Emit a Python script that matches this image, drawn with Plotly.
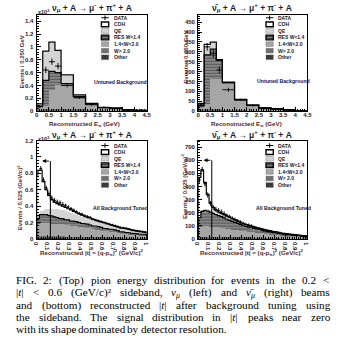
import re
import numpy as np
import plotly.graph_objects as go

W, H = 346, 351

# ---------------- data ----------------
# Top panels: reconstructed pion energy (GeV), variable bins, Events / 0.250 GeV
e_edges = [0, 0.25, 0.5, 0.75, 1.0, 1.5, 2.0, 2.5, 3.0, 3.5, 4.0, 4.5]

# top-left: nu_mu, units of 10^3
tl_other = [0.010, 0.010, 0.010, 0.010, 0.010, 0.005, 0.005, 0.003, 0.003, 0.002, 0.001]
tl_w2    = [0.020, 0.020, 0.020, 0.030, 0.030, 0.025, 0.015, 0.012, 0.009, 0.006, 0.003]
tl_w14   = [0.030, 0.050, 0.300, 0.370, 0.360, 0.170, 0.080, 0.030, 0.028, 0.007, 0.004]
tl_res   = [0.020, 0.400, 0.290, 0.190, 0.030, 0.030, 0.010, 0.005, 0.005, 0.003, 0.002]
tl_qe    = [0.030, 0.450, 0.450, 0.340, 0.130, 0.020, 0.010, 0.005, 0.005, 0.002, 0.000]
tl_coh   = [0.002, 0.005, 0.005, 0.005, 0.005, 0.002, 0.001, 0.001, 0.000, 0.000, 0.000]
tl_data  = [0.07, 0.64, 0.77, 0.70, 0.40, 0.21, 0.10, 0.06, 0.04, 0.02, 0.01]
tl_err   = [0.02, 0.05, 0.05, 0.05, 0.03, 0.02, 0.015, 0.01, 0.01, 0.006, 0.005]

# top-right: anti-nu_mu, events
tr_other = [3, 4, 4, 4, 3, 2, 1, 1, 1, 0.5, 0.3]
tr_w2    = [5, 6, 6, 6, 5, 3, 2, 1, 1, 0.5, 0.3]
tr_w14   = [12, 25, 155, 155, 132, 50, 24, 12, 9, 4, 1.4]
tr_res   = [8, 249, 149, 91, 4, 3, 3, 2, 1, 1, 1]
tr_qe    = [10, 51, 33, 4, 2, 2, 1, 1, 1, 0, 0]
tr_coh   = [1, 2, 2, 1, 1, 0, 0, 0, 0, 0, 0]
tr_data  = [32, 325, 290, 208, 108, 57, 28, 13, 10, 5, 2]
tr_err   = [8, 20, 20, 18, 10, 6, 4, 3, 3, 2, 1]

# Bottom panels: reconstructed |t|, 0.025 (GeV/c)^2 bins
t_edges = np.round(np.arange(0, 1.0001, 0.025), 4)

# bottom-left: nu_mu, units of 10^3
bl_other = [0.012]*10 + [0.011]*10 + [0.009]*10 + [0.007]*10
bl_w2    = [0.025]*10 + [0.022]*10 + [0.018]*10 + [0.014]*10
bl_w14   = [0.15, 0.16, 0.16, 0.16, 0.16, 0.155, 0.155, 0.15, 0.15, 0.145,
            0.14, 0.14, 0.135, 0.13, 0.125, 0.12, 0.115, 0.11, 0.105, 0.10,
            0.095, 0.09, 0.085, 0.08, 0.075, 0.07, 0.066, 0.062, 0.058, 0.054,
            0.05, 0.047, 0.044, 0.041, 0.038, 0.035, 0.032, 0.03, 0.028, 0.026]
bl_res   = [0.06, 0.10, 0.10, 0.10, 0.09, 0.088, 0.078, 0.073, 0.063, 0.063,
            0.062, 0.06, 0.052, 0.052, 0.052, 0.047, 0.042, 0.042, 0.042, 0.037,
            0.038, 0.038, 0.038, 0.033, 0.028, 0.028, 0.027, 0.026, 0.025, 0.019,
            0.019, 0.017, 0.015, 0.013, 0.011, 0.010, 0.009, 0.009, 0.009, 0.008]
bl_qe    = [0.05, 0.053, 0.063, 0.073, 0.088, 0.095, 0.10, 0.105, 0.11, 0.11,
            0.11, 0.10, 0.105, 0.095, 0.09, 0.09, 0.09, 0.085, 0.08, 0.08,
            0.075, 0.07, 0.065, 0.065, 0.065, 0.06, 0.055, 0.05, 0.045, 0.045,
            0.045, 0.045, 0.045, 0.045, 0.04, 0.034, 0.033, 0.03, 0.027, 0.025]
bl_coh   = [0.54, 0.49, 0.34, 0.23, 0.155, 0.105, 0.08, 0.065, 0.055, 0.045,
            0.04, 0.035, 0.03, 0.025, 0.02, 0.015, 0.01, 0.008, 0.006, 0.005,
            0.004, 0.003, 0.003, 0.002, 0.002, 0.001, 0.001, 0.001, 0.001, 0.001,
            0, 0, 0, 0, 0, 0, 0, 0, 0, 0]
bl_data  = [0.80, 0.86, 0.72, 0.62, 0.55, 0.50, 0.47, 0.45, 0.44, 0.42,
            0.41, 0.39, 0.37, 0.35, 0.33, 0.31, 0.30, 0.28, 0.27, 0.26,
            0.24, 0.23, 0.22, 0.21, 0.20, 0.19, 0.18, 0.17, 0.16, 0.15,
            0.14, 0.135, 0.13, 0.12, 0.11, 0.105, 0.10, 0.095, 0.09, 0.085]
bl_err   = [0.03]*10 + [0.02]*10 + [0.015]*10 + [0.012]*10

# bottom-right: anti-nu_mu, events
br_other = [5]*10 + [4]*10 + [3]*10 + [2]*10
br_w2    = [12]*10 + [10]*10 + [7]*10 + [4]*10
br_w14   = [75, 80, 82, 82, 80, 78, 76, 74, 72, 70,
            66, 63, 60, 57, 54, 51, 49, 47, 45, 43,
            42, 40, 38, 36, 34, 32, 30, 28, 26, 24,
            22, 20, 18, 17, 16, 14, 13, 12, 11, 10]
br_res   = [68, 113, 116, 113, 108, 100, 92, 87, 81, 73,
            70, 65, 60, 55, 50, 45, 37, 34, 31, 28,
            26, 24, 22, 19, 16, 14, 12, 10, 9, 8,
            10, 9, 9, 7, 6, 6, 5, 4, 3, 2]
br_qe    = [10, 12, 14, 16, 18, 19, 20, 20, 20, 20,
            20, 19, 18, 17, 16, 15, 15, 14, 13, 12,
            12, 11, 11, 10, 10, 9, 9, 8, 8, 8,
            7, 7, 7, 6, 6, 6, 5, 5, 5, 5]
br_coh   = [300, 303, 201, 112, 52, 26, 15, 7, 5, 5,
            4, 3, 2, 2, 2, 2, 1, 1, 1, 1,
            0, 0, 0, 0, 0, 0, 0, 0, 0, 0,
            0, 0, 0, 0, 0, 0, 0, 0, 0, 0]
br_data  = [450, 530, 420, 335, 270, 240, 225, 215, 205, 192,
            180, 170, 158, 148, 138, 128, 118, 110, 104, 98,
            92, 86, 80, 74, 68, 63, 58, 54, 50, 46,
            42, 39, 37, 34, 31, 29, 27, 25, 23, 22]
br_err   = [20]*10 + [14]*10 + [9]*10 + [6]*10

# signal-region cut markers (|t| cut and arrow height)
t_cut = 0.125
t_arrow_end = 0.05
bl_arrow_y = 0.95
br_arrow_y = 600

legend_names = ["DATA", "COH", "QE", "RES W<1.4", "1.4<W<2.0", "W> 2.0", "Other"]

# ---------------- style ----------------
C_OTHER = "#3a3a3a"
C_W2 = "#707070"
C_W14 = "#a6a6a6"
C_RES_BG = "#8c8c8c"
C_RES_FG = "#1e1e1e"
C_QE = "#d4d4d4"
C_COH = "#ffffff"
SANS = "Liberation Sans, Arial, sans-serif"
SERIF = "Liberation Serif, Times New Roman, serif"
TICKC = "#1a1a2e"
TITLEC = "#5a1e1e"


def px(x):
    return x / W


def py(y):
    return 1 - y / H


fig = go.Figure()


def add_panel(xa, ya, edges, comps, data, err):
    edges = np.asarray(edges, dtype=float)
    centers = (edges[:-1] + edges[1:]) / 2
    widths = np.diff(edges)
    colors = [C_OTHER, C_W2, C_W14, C_RES_BG, C_QE, C_COH]
    for k, vals in enumerate(comps):
        marker = dict(color=colors[k], line=dict(width=0))
        if k == 3:
            marker["pattern"] = dict(shape="-", fgcolor=C_RES_FG, bgcolor=C_RES_BG,
                                     size=3, solidity=0.4)
        fig.add_trace(go.Bar(x=centers, y=vals, width=widths, marker=marker,
                             xaxis=xa, yaxis=ya, showlegend=False,
                             hoverinfo="skip"))
    cum = np.cumsum(np.array(comps, dtype=float), axis=0)
    for level, lw in ((cum[3], 1.2), (cum[5], 1.2)):
        xs = [edges[0]]
        ys = [0]
        for i in range(len(centers)):
            xs += [edges[i], edges[i + 1]]
            ys += [level[i], level[i]]
        xs.append(edges[-1])
        ys.append(0)
        fig.add_trace(go.Scatter(x=xs, y=ys, mode="lines",
                                 line=dict(color="black", width=lw),
                                 xaxis=xa, yaxis=ya, showlegend=False,
                                 hoverinfo="skip"))
    fig.add_trace(go.Scatter(
        x=centers, y=data, mode="markers",
        marker=dict(size=1.5, color="black"),
        error_y=dict(type="data", array=err, width=0, thickness=0.9, color="black"),
        error_x=dict(type="data", array=widths / 2, width=0, thickness=0.9, color="black"),
        xaxis=xa, yaxis=ya, showlegend=False, hoverinfo="skip"))


add_panel("x", "y", e_edges, [tl_other, tl_w2, tl_w14, tl_res, tl_qe, tl_coh], tl_data, tl_err)
add_panel("x2", "y2", e_edges, [tr_other, tr_w2, tr_w14, tr_res, tr_qe, tr_coh], tr_data, tr_err)
add_panel("x3", "y3", t_edges, [bl_other, bl_w2, bl_w14, bl_res, bl_qe, bl_coh], bl_data, bl_err)
add_panel("x4", "y4", t_edges, [br_other, br_w2, br_w14, br_res, br_qe, br_coh], br_data, br_err)

# cut arrows in the |t| panels
for xa, ya, yv in (("x3", "y3", bl_arrow_y), ("x4", "y4", br_arrow_y)):
    fig.add_trace(go.Scatter(x=[t_cut, t_cut], y=[0, yv], mode="lines",
                             line=dict(color="black", width=1),
                             xaxis=xa, yaxis=ya, showlegend=False, hoverinfo="skip"))
    fig.add_annotation(x=t_arrow_end, y=yv, ax=t_cut, ay=yv, xref=xa, yref=ya,
                       axref=xa, ayref=ya, showarrow=True, arrowhead=2,
                       arrowsize=0.8, arrowwidth=1, arrowcolor="black", text=" ",
                       font=dict(size=1))

# ---------------- axes ----------------
tick_font = dict(family=SANS, size=6, color=TICKC, weight="bold")
x_dom_l = [px(33.5), px(146.5)]
x_dom_r = [px(199.3), px(311.5)]
y_dom_t = [py(110), py(12)]
y_dom_b = [py(240), py(140)]


def xaxis(dom, rng, dtick, minor, anchor):
    return dict(domain=dom, range=rng, anchor=anchor, dtick=dtick, tick0=0,
                ticks="inside", ticklen=4, tickwidth=0.8, tickcolor="black",
                minor=dict(ticks="inside", ticklen=2, dtick=minor, tickcolor="black"),
                showline=True, linecolor="black", linewidth=1, mirror=True,
                showgrid=False, zeroline=False, tickfont=tick_font,
                ticklabelstandoff=-2)


def yaxis(dom, rng, dtick, minor, anchor):
    return dict(domain=dom, range=rng, anchor=anchor, dtick=dtick, tick0=0,
                ticks="inside", ticklen=4, tickwidth=0.8, tickcolor="black",
                minor=dict(ticks="inside", ticklen=2, dtick=minor, tickcolor="black"),
                showline=True, linecolor="black", linewidth=1, mirror=True,
                showgrid=False, zeroline=False, tickfont=tick_font,
                ticklabelstandoff=1)


fig.update_layout(
    xaxis=xaxis(x_dom_l, [0, 4.5], 0.5, 0.1, "y"),
    yaxis=yaxis(y_dom_t, [0, 1.5], 0.2, 0.04, "x"),
    xaxis2=xaxis(x_dom_r, [0, 4.5], 0.5, 0.1, "y2"),
    yaxis2=yaxis(y_dom_t, [0, 487], 50, 10, "x2"),
    xaxis3=xaxis(x_dom_l, [0, 1], 0.1, 0.02, "y3"),
    yaxis3=yaxis(y_dom_b, [0, 1.2], 0.2, 0.04, "x3"),
    xaxis4=xaxis(x_dom_r, [0, 1], 0.1, 0.02, "y4"),
    yaxis4=yaxis(y_dom_b, [0, 750], 100, 20, "x4"),
    barmode="stack", bargap=0,
    width=W, height=H, margin=dict(l=0, r=0, t=0, b=0),
    paper_bgcolor="white", plot_bgcolor="white",
    showlegend=False,
)

# ---------------- text ----------------
def ann(x, y, text, size, color="black", family=SANS, xanchor="center",
        yanchor="middle", angle=0, bold=False):
    fig.add_annotation(x=px(x), y=py(y), xref="paper", yref="paper", text=text,
                       showarrow=False, xanchor=xanchor, yanchor=yanchor,
                       textangle=angle, borderpad=0,
                       font=dict(size=size, color=color, family=family,
                                 weight="bold" if bold else "normal"))


title_nu = "ν<sub>μ</sub> + A → μ<sup>-</sup> + π<sup>+</sup> + A"
title_nubar = "ν̄<sub>μ</sub> + A → μ<sup>+</sup> + π<sup>-</sup> + A"
TC = "#1c1c30"
ann(90, 5, title_nu, 8.5, TC, bold=True)
ann(255, 5, title_nubar, 8.5, TC, bold=True)
ann(90, 134, title_nu, 8.5, TC, bold=True)
ann(255, 134, title_nubar, 8.5, TC, bold=True)

xt_e = "Reconstructed E<sub>π</sub> (GeV)"
xt_t = "Reconstructed |t| = (q-p<sub>π</sub>)<sup>2</sup> (GeV/c)<sup>2</sup>"
ann(83, 123.5, xt_e, 6.2, TITLEC, bold=True)
ann(249, 123.5, xt_e, 6.2, TITLEC, bold=True)
ann(90, 253.5, xt_t, 6.2, TITLEC, bold=True)
ann(255, 253.5, xt_t, 6.2, TITLEC, bold=True)

ann(18, 60, "Events / 0.250 GeV", 6, TITLEC, angle=-90, bold=True)
ann(186.5, 55, "Events / 0.250 GeV", 6, TITLEC, angle=-90, bold=True)
ann(16, 198, "Events / 0.025 (GeV/c)<sup>2</sup>", 6, TITLEC, angle=-90, bold=True)
ann(185, 187, "Events / 0.025 (GeV/c)<sup>2</sup>", 6, TITLEC, angle=-90, bold=True)

ann(34, 9, "x10<sup>3</sup>", 5.5, TICKC, xanchor="left", bold=True)
ann(34, 138, "x10<sup>3</sup>", 5.5, TICKC, xanchor="left", bold=True)

NAVY = "#10106a"
ann(120, 80, "Untuned Background", 5.2, NAVY, bold=True)
ann(287, 79, "Untuned Background", 5.2, NAVY, bold=True)
ann(120, 209, "All Background Tuned", 5.2, TICKC, bold=True)
ann(287, 209, "All Background Tuned", 5.2, TICKC, bold=True)

# ---------------- legends ----------------
leg_fill = [C_COH, C_QE, C_RES_BG, C_W14, C_W2, C_OTHER]


def legend(x0, y0, xt):
    step = 6.7
    # DATA cross
    fig.add_shape(type="line", xref="paper", yref="paper",
                  x0=px(x0), x1=px(x0 + 7.5), y0=py(y0), y1=py(y0),
                  line=dict(color="black", width=1))
    fig.add_shape(type="line", xref="paper", yref="paper",
                  x0=px(x0 + 3.7), x1=px(x0 + 3.7), y0=py(y0 - 2.3), y1=py(y0 + 2.3),
                  line=dict(color="black", width=1))
    ann(xt, y0, legend_names[0], 5, TICKC, xanchor="left", bold=True)
    for k in range(6):
        yc = y0 + step * (k + 1)
        lw = 1.4 if k in (0, 2) else 0.4
        lc = "black" if k in (0, 2) else "#666666"
        fig.add_shape(type="rect", xref="paper", yref="paper",
                      x0=px(x0), x1=px(x0 + 7.5), y0=py(yc - 2.4), y1=py(yc + 2.4),
                      fillcolor=leg_fill[k], line=dict(color=lc, width=lw))
        if k == 2:
            for dy in (-1.0, 1.0):
                fig.add_shape(type="line", xref="paper", yref="paper",
                              x0=px(x0), x1=px(x0 + 7.5), y0=py(yc + dy), y1=py(yc + dy),
                              line=dict(color=C_RES_FG, width=0.8))
        ann(xt, yc, legend_names[k + 1], 5, TICKC, xanchor="left", bold=True)


legend(100, 15, 112)
legend(269, 15, 280)
legend(100, 145, 112)
legend(269, 145, 280)

# ---------------- caption (justified, word by word) ----------------
cap = [
    "FIG. 2: (Top) pion energy distribution for events in the 0.2 &lt;",
    "|<i>t</i>| &lt; 0.6 (GeV/c)² sideband, <i>ν</i><sub><i>μ</i></sub> (left) and <i>ν̄</i><sub><i>μ</i></sub> (right) beams",
    "and (bottom) reconstructed |<i>t</i>| after background tuning using",
    "the sideband.  The signal distribution in |<i>t</i>| peaks near zero",
    "with its shape dominated by detector resolution.",
]
cap_y = [282, 294.3, 306.7, 319, 331.5]

# Times / Liberation Serif advance widths (1/1000 em)
TW = {' ': 250, '!': 333, '(': 333, ')': 333, '.': 250, ',': 250, ':': 278,
      '<': 564, '|': 200, '/': 278, '-': 333, '²': 300, 'ν': 460, 'μ': 500,
      '\u0304': 0}
for ch in '0123456789':
    TW[ch] = 500
TW.update(dict(zip('abcdefghijklmnopqrstuvwxyz',
                   [444, 500, 444, 500, 444, 333, 500, 500, 278, 278, 500, 278, 778,
                    500, 500, 500, 500, 333, 389, 278, 500, 500, 722, 500, 500, 444])))
TW.update(dict(zip('ABCDEFGHIJKLMNOPQRSTUVWXYZ',
                   [722, 667, 667, 722, 611, 556, 722, 722, 333, 389, 722, 611, 889,
                    722, 722, 556, 722, 667, 556, 611, 722, 722, 944, 722, 722, 611])))


def word_width(word, size):
    w = 0.0
    scale = 1.0
    for tok in re.split(r'(<[^>]+>|&lt;)', word):
        if not tok:
            continue
        if tok == '&lt;':
            w += TW['<'] * scale
        elif tok.startswith('<'):
            if tok in ('<sub>', '<sup>'):
                scale = 0.7
            elif tok in ('</sub>', '</sup>'):
                scale = 1.0
        else:
            w += sum(TW.get(c, 500) for c in tok) * scale
    return w * size / 1000.0


CAP_SIZE = 11.2
CAP_L, CAP_R = 11, 333
for li, (line, yy) in enumerate(zip(cap, cap_y)):
    words = line.split()
    widths = [word_width(wd, CAP_SIZE) for wd in words]
    if li < len(cap) - 1:
        gap = (CAP_R - CAP_L - sum(widths)) / (len(words) - 1)
    else:
        gap = TW[' '] * CAP_SIZE / 1000.0
    x = CAP_L
    for wd, ww in zip(words, widths):
        ann(x, yy - 7.0, wd, CAP_SIZE, "black", family=SERIF,
            xanchor="left", yanchor="top")
        x += ww + gap

fig.write_html("out.html")
